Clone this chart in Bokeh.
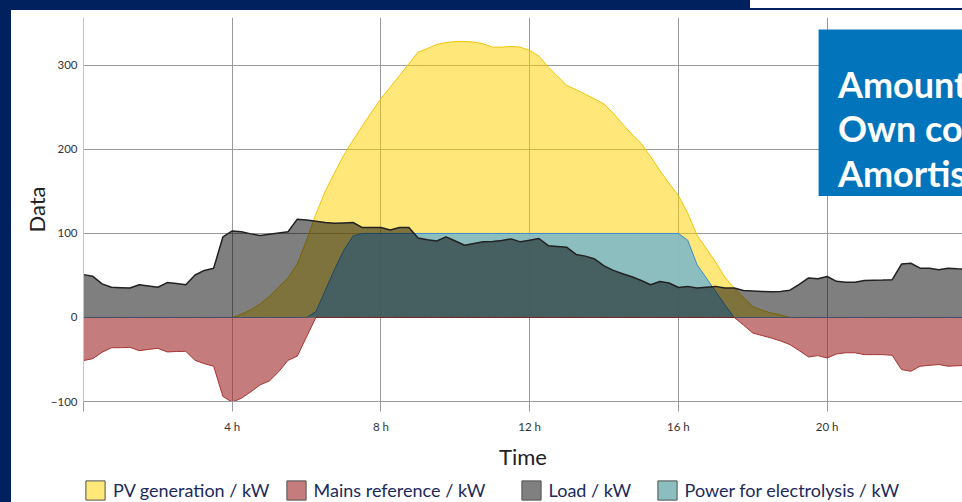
from bokeh.plotting import figure
from bokeh.layouts import row, column
from bokeh.models import (FixedTicker, Legend, LegendItem, BoxAnnotation, Label,
                          Range1d, Spacer)
from bokeh.embed import file_html
from bokeh.resources import INLINE

# ---------------- data (15-minute steps) ----------------
hours = [i * 0.25 for i in range(97)]

pv_kw = [0, 0, 0, 0, 0, 0, 0, 0, 0, 0, 0, 0, 0, 0, 0, 0,
         0, 4, 9, 16, 25, 36, 47, 64, 92, 123, 150, 172,
         193, 211, 228, 244.5, 260.5, 274, 288, 302,
         315.8, 320, 325, 327, 328.5, 328.5, 327.7, 325.7,
         321.7, 321.7, 322.5, 321.7, 317.8, 311, 298, 287,
         276, 271, 265.5, 260, 254, 243, 230, 218,
         207, 191.5, 175, 159.5, 145, 124, 98, 82,
         66, 48, 35, 24, 13, 8.5, 5.3, 3,
         0, 0, 0, 0, 0, 0, 0, 0, 0, 0, 0, 0, 0, 0, 0, 0, 0, 0, 0, 0, 0]

mains_kw = [-51.3, -49, -41.4, -36, -36, -35.5, -39.5, -38,
            -36.7, -41, -40.5, -40.3, -51, -55, -58, -94,
            -100.8, -96, -88.5, -80.2, -75.5, -64.5, -51, -46,
            -23, 0, 0, 0, 0, 0, 0, 0, 0, 0, 0, 0, 0, 0, 0, 0,
            0, 0, 0, 0, 0, 0, 0, 0, 0, 0, 0, 0, 0, 0, 0, 0,
            0, 0, 0, 0, 0, 0, 0, 0, 0, 0, 0, 0, 0, 0, 0,
            -9, -18.5, -21.5, -24.5, -28,
            -32.3, -39.5, -47, -45.4, -48.2, -43.5, -42, -42,
            -44.2, -44.2, -44.2, -45, -62, -64, -58, -57,
            -56, -58, -57.5, -57, -57]

load_kw = [51, 49, 40, 36, 35.5, 35, 39, 37.5,
           36, 41.5, 40.5, 39, 50.5, 56, 58.5, 96,
           103, 102, 99.5, 97.5, 99, 100.5, 102, 117,
           116, 114.5, 113, 112, 112.5, 113, 107, 107,
           107, 104, 107, 107, 94.5, 92.5, 91, 96,
           91, 86, 88, 90, 90.5, 91.5, 93.5, 90,
           92, 94, 85.5, 84.5, 83.5, 75, 73, 69.5,
           61.5, 56, 52, 48.5, 44, 39, 42.8, 41,
           35.7, 37, 35, 36, 37, 35, 35, 32,
           31.5, 31, 30.5, 31, 32.5, 39.5, 47, 46,
           48.8, 43, 42, 42, 44, 44.3, 44.5, 45,
           63.5, 64.5, 58.7, 58.5, 56.7, 58.7, 58, 57.5, 57]

electrolysis_kw = [0, 0, 0, 0, 0, 0, 0, 0, 0, 0, 0, 0, 0, 0, 0, 0,
                   0, 0, 0, 0, 0, 0, 0, 0, 0, 7, 32, 57, 80, 97,
                   100, 100, 100, 100, 100, 100, 100, 100, 100, 100,
                   100, 100, 100, 100, 100, 100, 100, 100, 100, 100,
                   100, 100, 100, 100, 100, 100, 100, 100, 100, 100,
                   100, 100, 100, 100, 100, 92, 63, 47, 31, 15,
                   0, 0, 0, 0, 0, 0, 0, 0, 0, 0, 0, 0, 0, 0, 0, 0,
                   0, 0, 0, 0, 0, 0, 0, 0, 0, 0, 0]

series_names = ["PV generation / kW", "Mains reference / kW",
                "Load / kW", "Power for electrolysis / kW"]
x_ticks = [0, 4, 8, 12, 16, 20, 24]
x_tick_labels = ["", "4 h", "8 h", "12 h", "16 h", "20 h", "24 h"]
y_ticks = [-100, 0, 100, 200, 300]
box_lines = ["Amount", "Own co", "Amortis"]

# ---------------- styles ----------------
NAVY = "#00215D"
FONT = "Lato"
GRID = "#9a9a9a"

p = figure(width=951, height=462, output_backend="svg", toolbar_location=None,
           x_range=Range1d(0, 23.64), y_range=Range1d(-100, 357),
           min_border_left=72, min_border_right=0, min_border_top=7,
           min_border_bottom=70)
p.border_fill_color = "white"
p.background_fill_color = "white"
p.outline_line_color = None

# areas
p.varea(x=hours, y1=0, y2=pv_kw, fill_color="#FFD100", fill_alpha=0.52)
p.line(hours, pv_kw, line_color="#F0C400", line_width=1)
p.varea(x=hours, y1=0, y2=electrolysis_kw, fill_color="#7FB9C8", fill_alpha=0.9)
p.line(hours, electrolysis_kw, line_color="#3A8CC9", line_width=1)
p.varea(x=hours, y1=0, y2=mains_kw, fill_color="#9C2424", fill_alpha=0.6)
p.line(hours, mains_kw, line_color="#A83232", line_width=1)
p.varea(x=hours, y1=0, y2=load_kw, fill_color="black", fill_alpha=0.5)
p.line(hours, load_kw, line_color="#222222", line_width=1.5)

# axes
p.xaxis.ticker = FixedTicker(ticks=x_ticks)
p.xaxis.major_label_overrides = dict(zip(x_ticks, x_tick_labels))
p.xaxis.major_tick_out = 10
p.xaxis.major_tick_in = 0
p.xaxis.minor_tick_line_color = None
p.xaxis.major_tick_line_color = GRID
p.xaxis.axis_line_color = GRID
p.xaxis.major_label_standoff = 8
p.xaxis.axis_label = "Time"
p.xaxis.axis_label_standoff = 7

p.yaxis.ticker = FixedTicker(ticks=y_ticks)
p.yaxis.major_tick_out = 0
p.yaxis.major_tick_in = 0
p.yaxis.minor_tick_line_color = None
p.yaxis.axis_line_color = "#c4c4c4"
p.yaxis.major_label_standoff = 6
p.yaxis.axis_label = "Data"
p.yaxis.axis_label_standoff = -2

for ax in (p.xaxis[0], p.yaxis[0]):
    ax.major_label_text_font = FONT
    ax.major_label_text_font_size = "11.5px"
    ax.major_label_text_color = "#333333"
    ax.axis_label_text_font = FONT
    ax.axis_label_text_font_size = "22px"
    ax.axis_label_text_font_style = "normal"
    ax.axis_label_text_color = "#222222"

p.xgrid.ticker = FixedTicker(ticks=x_ticks)
p.ygrid.ticker = FixedTicker(ticks=y_ticks)
p.xgrid.grid_line_color = GRID
p.ygrid.grid_line_color = GRID

# blue info box
p.add_layout(BoxAnnotation(left=19.77, bottom=144.5, top=342.7,
                           fill_color="#0274BC", fill_alpha=1,
                           line_color=None, level="annotation"))
for txt, yy in zip(box_lines, [278.3, 224.9, 171.5]):
    p.add_layout(Label(x=20.29, y=yy, text=txt, text_color="white",
                       text_font=FONT, text_font_style="bold",
                       text_font_size="36px", text_baseline="alphabetic",
                       level="overlay"))

# ---------------- legend strip (own small figure under the chart) ----------------
lg_fig = figure(width=951, height=30, output_backend="svg", toolbar_location=None,
                x_range=Range1d(0, 1), y_range=Range1d(0, 1),
                min_border_left=0, min_border_right=0, min_border_top=0,
                min_border_bottom=0)
lg_fig.axis.visible = False
lg_fig.grid.visible = False
lg_fig.outline_line_color = None
lg_fig.border_fill_color = "white"
lg_fig.background_fill_color = "white"

swatch_colors = ["#FFE87A", "#C47C7C", "#808080", "#8CBEC0"]
swatch_offsets = [0, 200.6, 435.6, 571.6]
for name, col, lx in zip(series_names, swatch_colors, swatch_offsets):
    sw = lg_fig.quad(left=[0], right=[0], top=[0], bottom=[0], fill_color=col,
                     line_color="#505050", line_width=1)
    lg = Legend(items=[LegendItem(label=name, renderers=[sw])],
                location=(lx, 0), orientation="horizontal",
                glyph_width=24, glyph_height=24, label_standoff=6,
                padding=0, margin=0, border_line_color=None,
                background_fill_alpha=0,
                label_text_font=FONT, label_text_font_size="18px",
                label_text_color="#1B2A5C")
    lg_fig.add_layout(lg, "center")

# navy page frame (left stripe and top band)
left_strip = Spacer(width=11, height=502, styles={"background-color": NAVY})
top_band = row(
    Spacer(width=739, height=10, styles={"background-color": NAVY}),
    Spacer(width=212, height=10, styles={
        "background": f"linear-gradient(to bottom, #ffffff 8px, {NAVY} 8px)"}),
)
page = row(left_strip, column(top_band, p, lg_fig))

open("out.html", "w").write(file_html(page, INLINE))
